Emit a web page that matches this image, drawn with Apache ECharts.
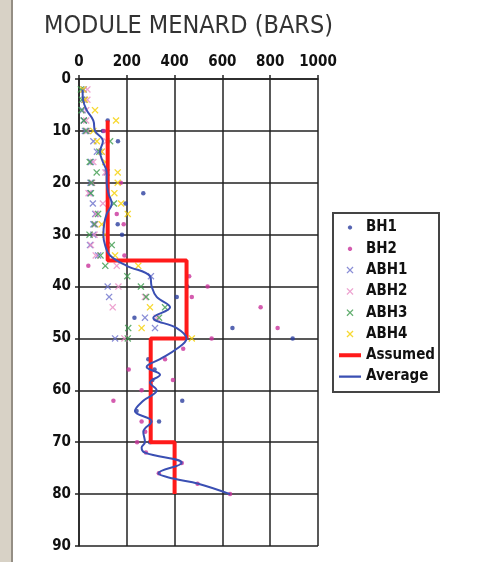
<!DOCTYPE html>
<html>
<head>
<meta charset="utf-8">
<script src="https://cdn.jsdelivr.net/npm/echarts@6/dist/echarts.min.js"></script>
<style>
  html, body { margin: 0; padding: 0; background: #fff; }
  #chart { width: 477px; height: 562px; }
</style>
</head>
<body>
<div id="chart"></div>
<script>
// axis ticks
const xTicks = [0, 200, 400, 600, 800, 1000]
const depthTicks = [0, 10, 20, 30, 40, 50, 60, 70, 80, 90]

// [value, depth] pairs
const bh1 = [[120, 8], [100, 10], [163, 12], [269, 22], [195, 24], [162, 28], [180, 30],
  [453, 40], [409, 42], [232, 46], [642, 48], [894, 50], [290, 54], [316, 56], [307, 58],
  [432, 62], [241, 64], [335, 66], [297, 70]]
const bh2 = [[105, 10], [175, 20], [158, 26], [187, 28], [190, 34], [39, 36], [461, 38],
  [538, 40], [472, 42], [760, 44], [831, 48], [555, 50], [436, 52], [360, 54], [208, 56],
  [393, 58], [262, 60], [144, 62], [262, 66], [277, 68], [243, 70], [280, 72], [430, 74],
  [334, 76], [496, 78], [632, 80]]
const abh1 = [[20, 2], [22, 4], [15, 6], [20, 8], [25, 10], [60, 12], [75, 14], [50, 16],
  [116, 18], [48, 20], [46, 22], [58, 24], [68, 26], [60, 28], [60, 30], [46, 32], [80, 34],
  [301, 38], [120, 40], [126, 42], [276, 46], [318, 48], [151, 50]]
const abh2 = [[35, 2], [35, 4], [30, 6], [30, 8], [35, 10], [115, 12], [95, 14], [60, 16],
  [110, 18], [55, 20], [40, 22], [100, 24], [72, 26], [68, 28], [65, 30], [50, 32], [70, 34],
  [158, 36], [165, 40], [276, 42], [141, 44], [325, 46], [190, 50]]
const abh3 = [[8, 2], [12, 4], [10, 6], [20, 8], [30, 10], [130, 12], [85, 14], [45, 16],
  [74, 18], [52, 20], [50, 22], [146, 24], [80, 26], [65, 28], [44, 30], [137, 32], [90, 34],
  [110, 36], [202, 38], [259, 40], [281, 42], [360, 44], [335, 46], [206, 48], [204, 50]]
const abh4 = [[18, 2], [25, 4], [67, 6], [155, 8], [60, 10], [75, 12], [95, 14], [110, 16],
  [162, 18], [162, 20], [148, 22], [176, 24], [204, 26], [95, 28], [109, 30], [151, 34],
  [248, 36], [297, 44], [262, 48], [472, 50]]
const assumed = [[120, 8], [120, 35], [450, 35], [450, 50], [300, 50], [300, 70], [400, 70], [400, 80]]
const average = [[15, 2], [17, 4], [32, 6], [60, 8], [67, 10], [100, 12], [88, 14], [100, 16],
  [116, 18], [116, 20], [123, 22], [137, 24], [116, 26], [105, 28], [102, 30], [109, 32],
  [130, 34], [200, 36], [297, 38], [304, 40], [325, 42], [381, 44], [311, 46], [409, 48],
  [450, 50], [409, 52], [339, 54], [283, 55.5], [339, 57], [297, 58.5], [325, 60], [269, 62],
  [234, 64], [304, 66], [269, 68], [276, 70], [262, 71], [276, 72], [430, 74], [332, 76],
  [395, 77], [499, 78], [632, 80]]

const cross = 'path://M0,1.3L1.3,0L5,3.7L8.7,0L10,1.3L6.3,5L10,8.7L8.7,10L5,6.3L1.3,10L0,8.7L3.7,5Z'
// legend icons: invisible corner points fix the box, the mark sits inside it
const dotIcon = 'path://M0,0L0,0Z M10,10L10,10Z M3.8,2L6.2,2L8,3.8L8,6.2L6.2,8L3.8,8L2,6.2L2,3.8Z'
const thickIcon = 'path://M0,0L0,0Z M22,7L22,7Z M0,1.5L22,1.5L22,5.5L0,5.5Z'
const thinIcon = 'path://M0,0L0,0Z M22,7L22,7Z M0,2.3L22,2.3L22,4.7L0,4.7Z'
const font = '"DejaVu Sans Condensed", "Liberation Sans", Arial, sans-serif'

const chart = echarts.init(document.getElementById('chart'))

function dots (name, data, color) {
  return { name, type: 'scatter', data, symbol: 'circle', symbolSize: 4.5, itemStyle: { color } }
}
function crosses (name, data, color) {
  return { name, type: 'scatter', data, symbol: cross, symbolSize: 7, itemStyle: { color } }
}

const option = {
  animation: false,
  backgroundColor: '#fff',
  title: {
    text: 'MODULE MENARD (BARS)',
    left: 39,
    top: 9,
    textStyle: { fontFamily: font, fontSize: 25, fontWeight: 'normal', color: '#333' }
  },
  graphic: [
    { type: 'rect', shape: { x: 0, y: 0, width: 11, height: 562 }, style: { fill: '#d8d2c6' } },
    { type: 'rect', shape: { x: 11, y: 0, width: 2, height: 562 }, style: { fill: '#948e84' } }
  ],
  grid: { left: 79, top: 79, right: 159, bottom: 16 },
  xAxis: {
    type: 'value',
    position: 'top',
    min: xTicks[0],
    max: xTicks[xTicks.length - 1],
    interval: 200,
    axisLine: { lineStyle: { color: '#222', width: 1.5 } },
    axisTick: { show: true, length: 4, lineStyle: { color: '#222', width: 1.5 } },
    axisLabel: {
      margin: 9,
      formatter: v => String(v),
      fontFamily: font,
      fontWeight: 'bold',
      fontSize: 15,
      color: '#111'
    },
    splitLine: { show: true, lineStyle: { color: '#222', width: 1.5 } }
  },
  yAxis: {
    type: 'value',
    inverse: true,
    min: depthTicks[0],
    max: depthTicks[depthTicks.length - 1],
    interval: 10,
    axisLine: { show: true, lineStyle: { color: '#222', width: 1.5 } },
    axisTick: { show: true, length: 4, lineStyle: { color: '#222', width: 1.5 } },
    axisLabel: { margin: 8, fontFamily: font, fontWeight: 'bold', fontSize: 15, color: '#111' },
    splitLine: { show: true, lineStyle: { color: '#222', width: 1.5 } }
  },
  legend: {
    orient: 'vertical',
    left: 333,
    top: 213,
    padding: [7, 4, 8, 6],
    itemGap: 6.3,
    itemWidth: 22,
    itemHeight: 7,
    itemTextGap: 3,
    borderColor: '#444',
    borderWidth: 2,
    textStyle: { fontFamily: font, fontWeight: 'bold', fontSize: 15, color: '#111' },
    data: [
      { name: 'BH1', icon: dotIcon },
      { name: 'BH2', icon: dotIcon },
      { name: 'ABH1', icon: cross },
      { name: 'ABH2', icon: cross },
      { name: 'ABH3', icon: cross },
      { name: 'ABH4', icon: cross },
      { name: 'Assumed', icon: thickIcon },
      { name: 'Average', icon: thinIcon }
    ]
  },
  series: [
    dots('BH1', bh1, '#2c3f9f'),
    dots('BH2', bh2, '#c9339b'),
    crosses('ABH1', abh1, '#6d72cc'),
    crosses('ABH2', abh2, '#e88cc4'),
    crosses('ABH3', abh3, '#3b9a4b'),
    crosses('ABH4', abh4, '#f5cf00'),
    {
      name: 'Assumed',
      type: 'line',
      data: assumed,
      symbol: 'none',
      lineStyle: { color: '#ff1a1a', width: 4 },
      itemStyle: { color: '#ff1a1a' }
    },
    {
      name: 'Average',
      type: 'line',
      data: average,
      smooth: 0.4,
      symbol: 'none',
      lineStyle: { color: '#3a4fb3', width: 2 },
      itemStyle: { color: '#3a4fb3' }
    }
  ]
}

chart.setOption(option)
</script>
</body>
</html>
